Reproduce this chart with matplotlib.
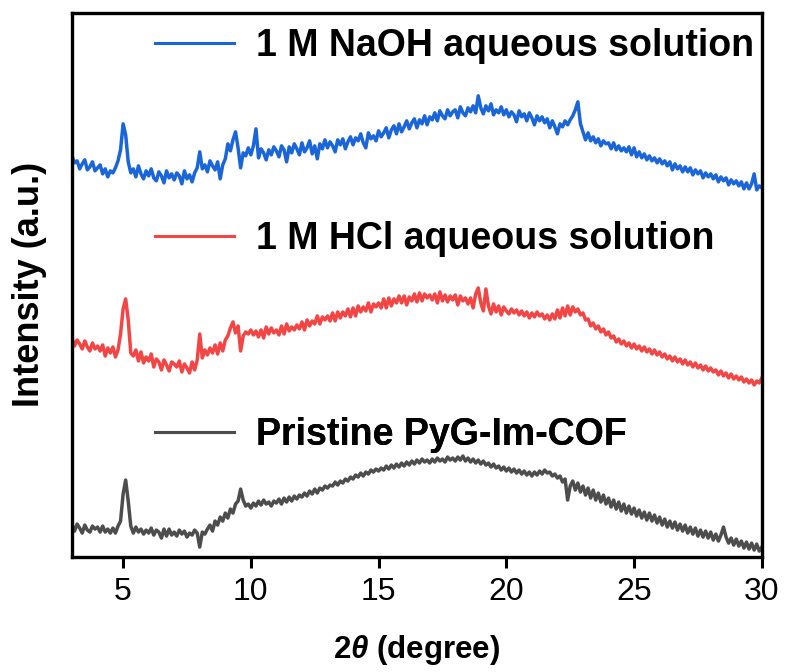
import numpy as np
import matplotlib
matplotlib.use("Agg")
import matplotlib.pyplot as plt

plt.rcParams['font.family'] = ['Liberation Sans', 'DejaVu Sans']
plt.rcParams['mathtext.fontset'] = 'custom'
plt.rcParams['mathtext.rm'] = 'Liberation Sans:bold'
plt.rcParams['mathtext.bf'] = 'Liberation Sans:bold'
plt.rcParams['mathtext.bfit'] = 'Liberation Sans:bold:italic'
plt.rcParams['mathtext.it'] = 'Liberation Sans:bold:italic'

two_theta = np.round(np.arange(3.0, 30.0001, 0.1), 1)

naoh = [
    401, 394, 396, 388, 393, 397, 387, 390, 395, 386,
    389, 392, 383, 388, 380, 386, 384, 389, 396, 407,
    433, 422, 395, 384, 388, 380, 391, 383, 378, 386,
    381, 388, 379, 376, 385, 381, 374, 386, 379, 383,
    377, 384, 381, 373, 386, 378, 382, 375, 384, 389,
    405, 388, 392, 385, 396, 391, 387, 395, 378, 392,
    398, 413, 406, 417, 425, 409, 389, 404, 401, 409,
    402, 411, 428, 399, 408, 404, 397, 407, 402, 410,
    406, 400, 411, 407, 395, 410, 404, 413, 408, 402,
    414, 405, 409, 416, 403, 411, 398, 413, 408, 417,
    409, 415, 411, 405, 417, 412, 418, 408, 415, 420,
    412, 419, 416, 423, 414, 409, 424, 418, 421, 416,
    426, 420, 424, 429, 419, 427, 431, 423, 433, 425,
    430, 436, 428, 434, 438, 429, 437, 433, 441, 432,
    440, 437, 444, 436, 446, 441, 438, 447, 441, 445,
    447, 439, 450, 444, 441, 449, 445, 451, 444, 461,
    449, 443, 451, 446, 453, 442, 447, 444, 450, 442,
    447, 440, 445, 442, 435, 446, 440, 443, 436, 444,
    439, 432, 441, 436, 440, 434, 438, 429, 436, 430,
    423, 433, 430, 436, 432, 437, 441, 447, 455, 433,
    425, 417, 424, 416, 420, 414, 418, 411, 416, 413,
    414, 408, 414, 407, 411, 406, 409, 405, 410, 402,
    409, 400, 405, 399, 403, 397, 401, 396, 399, 394,
    398, 393, 396, 391, 395, 387, 393, 388, 391, 385,
    390, 385, 389, 382, 387, 383, 386, 379, 384, 380,
    383, 378, 382, 375, 380, 376, 379, 372, 377, 373,
    376, 371, 375, 368, 374, 368, 373, 383, 367, 371,
    369,
]

hcl = [
    219, 211, 217, 213, 208, 216, 210, 206, 214, 208,
    211, 206, 212, 201, 209, 204, 210, 200, 207, 223,
    248, 258, 237, 204, 201, 207, 196, 205, 194, 200,
    196, 203, 190, 198, 195, 187, 197, 192, 186, 195,
    193, 190, 196, 185, 193, 189, 184, 195, 187, 197,
    223, 199, 207, 202, 209, 204, 212, 203, 214, 206,
    217, 221, 229, 235, 224, 231, 206, 221, 225, 223,
    227, 222, 226, 220, 227, 219, 230, 223, 229, 224,
    227, 222, 231, 223, 233, 226, 230, 227, 232, 228,
    235, 227, 237, 231, 236, 233, 241, 233, 240, 237,
    241, 236, 244, 236, 245, 239, 245, 241, 248, 240,
    249, 241, 251, 245, 250, 246, 254, 245, 253, 250,
    254, 249, 258, 249, 259, 251, 258, 254, 261, 254,
    261, 252, 260, 256, 263, 255, 264, 256, 263, 259,
    262, 257, 263, 254, 265, 256, 262, 255, 261, 257,
    262, 252, 261, 256, 259, 253, 259, 249, 263, 269,
    254, 246, 268, 251, 243, 253, 245, 251, 242, 250,
    246, 243, 248, 244, 247, 242, 246, 241, 245, 239,
    244, 240, 245, 241, 243, 238, 242, 237, 243, 238,
    247, 239, 249, 241, 251, 242, 250, 245, 248, 242,
    244, 237, 238, 231, 234, 228, 231, 225, 228, 222,
    225, 219, 221, 215, 218, 213, 216, 211, 214, 209,
    213, 208, 211, 206, 210, 205, 208, 203, 207, 202,
    205, 200, 203, 198, 201, 196, 200, 195, 198, 193,
    197, 192, 195, 190, 194, 189, 192, 187, 191, 186,
    189, 185, 187, 182, 186, 181, 184, 179, 183, 178,
    181, 177, 180, 175, 178, 174, 177, 172, 176, 174,
    179,
]

pristine = [
    33, 26, 33, 29, 24, 32, 27, 25, 31, 28,
    30, 25, 31, 25, 28, 24, 29, 24, 31, 36,
    63, 77, 56, 31, 24, 30, 25, 28, 23, 27,
    24, 29, 22, 27, 25, 19, 28, 21, 28, 22,
    25, 21, 27, 23, 26, 20, 24, 22, 27, 24,
    10, 25, 23, 28, 32, 26, 36, 32, 40, 36,
    44, 39, 48, 44, 53, 56, 68, 57, 51, 53,
    49, 54, 51, 56, 52, 57, 53, 55, 51, 56,
    54, 58, 53, 59, 55, 60, 56, 61, 58, 62,
    60, 64, 61, 66, 63, 68, 64, 69, 67, 71,
    69, 72, 71, 75, 72, 76, 74, 78, 76, 80,
    78, 82, 80, 84, 81, 85, 83, 87, 85, 88,
    86, 89, 87, 91, 88, 92, 89, 93, 90, 94,
    91, 95, 92, 96, 93, 97, 94, 98, 95, 97,
    94, 98, 95, 99, 96, 98, 95, 100, 97, 99,
    96, 100, 97, 101, 96, 99, 95, 98, 94, 97,
    93, 96, 92, 94, 90, 93, 89, 91, 87, 90,
    86, 89, 85, 88, 84, 87, 83, 86, 82, 85,
    81, 85, 82, 86, 83, 87, 84, 85, 81, 83,
    79, 81, 75, 78, 57, 71, 76, 67, 74, 65,
    71, 62, 69, 59, 67, 57, 64, 55, 62, 53,
    59, 50, 57, 48, 55, 46, 53, 44, 51, 43,
    49, 41, 47, 39, 45, 37, 44, 36, 42, 34,
    40, 32, 38, 30, 36, 29, 35, 27, 33, 26,
    32, 24, 30, 23, 29, 21, 27, 20, 26, 19,
    25, 17, 23, 16, 22, 30, 20, 14, 19, 12,
    18, 11, 16, 9, 15, 8, 14, 7, 13, 6,
    10,
]

labels = ["1 M NaOH aqueous solution", "1 M HCl aqueous solution", "Pristine PyG-Im-COF"]
colors = ["#1a66d9", "#f44545", "#4d4d4d"]
xticks = [5, 10, 15, 20, 25, 30]

fig = plt.figure(figsize=(7.87, 6.72), dpi=100)
ax = fig.add_axes([0.0915, 0.171, 0.8765, 0.810])

series = [naoh, hcl, pristine]
lines = []
for vals, c in zip(series, colors):
    ln, = ax.plot(two_theta, vals, color=c, lw=2.5)
    lines.append(ln)

ax.set_xlim(3, 30)
ax.set_ylim(0, 544)
ax.set_xticks(xticks)
ax.set_xticklabels([str(t) for t in xticks], fontsize=23)
ax.set_yticks([])
ax.tick_params(axis='x', direction='out', length=8, width=2.2, pad=6)
for s in ax.spines.values():
    s.set_linewidth(2.4)

ax.set_xlabel(r'2$\mathbfit{\theta}$ (degree)', fontsize=22.5, fontweight='bold', labelpad=19)
ax.set_ylabel('Intensity (a.u.)', fontsize=26, fontweight='bold', labelpad=18)

ypos = [0.939, 0.585, 0.224]
for ln, lab, yp in zip(lines, labels, ypos):
    leg = ax.legend([ln], [lab], loc='center left', bbox_to_anchor=(0.12, yp),
                    frameon=False, handlelength=2.1, handletextpad=0.6,
                    borderaxespad=0, borderpad=0,
                    prop={'size': 27, 'weight': 'bold'})
    for h in leg.get_lines():
        h.set_linewidth(2.2)
    ax.add_artist(leg)

fig.savefig('out.png', dpi=100)
